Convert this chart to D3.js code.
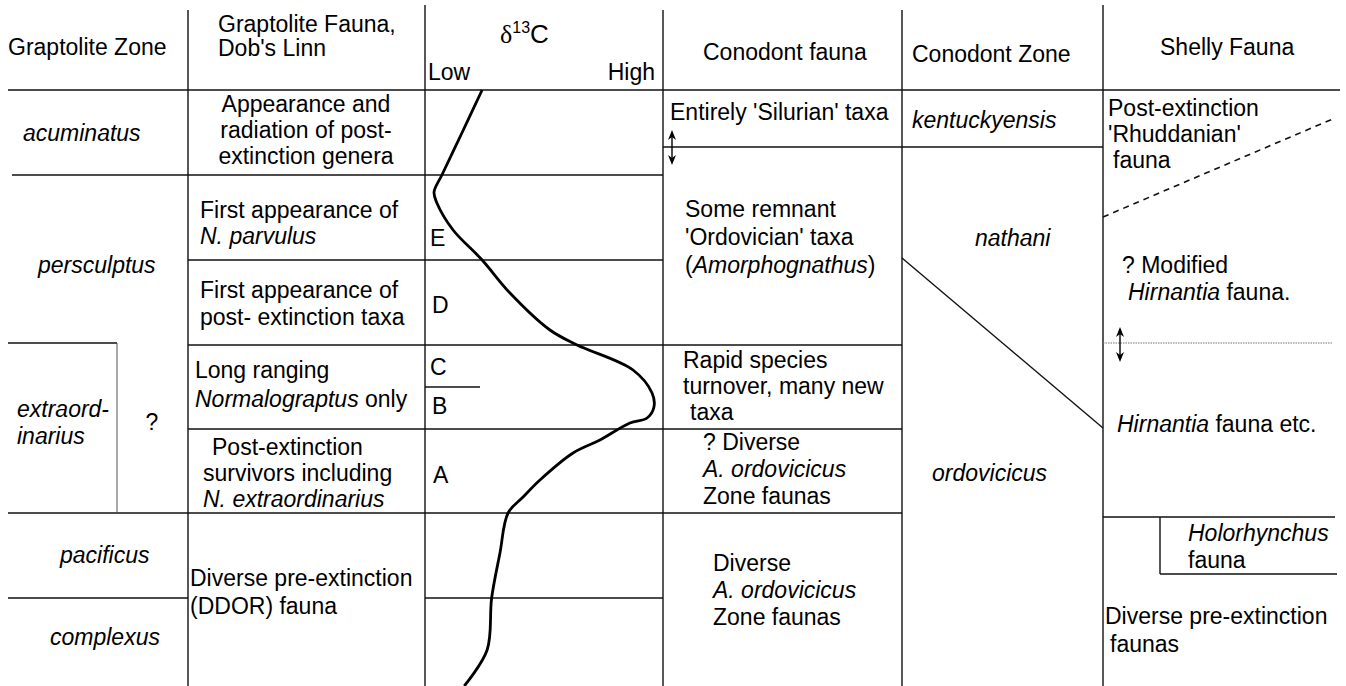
<!DOCTYPE html>
<html><head><meta charset="utf-8">
<script src="https://cdn.jsdelivr.net/npm/d3@7"></script>
<style>
html,body{margin:0;padding:0;background:#fff;}
svg{display:block;}
text{font-family:"Liberation Sans", Arial, Helvetica, sans-serif; fill:#000;}
</style>
</head><body>
<svg id="chart" width="1346" height="686"></svg>
<script>
// ---------------- DATA ----------------
// "|" separates lines, text between "*" is italic
const columnTitles = ["Graptolite Zone", "Graptolite Fauna,|Dob's Linn", "δ13C", "Conodont fauna", "Conodont Zone", "Shelly Fauna"];
const carbonScaleLabels = ["Low", "High"];
const graptoliteZones = ["*acuminatus*", "*persculptus*", "*extraord-*|*inarius*", "?", "*pacificus*", "*complexus*"];
const graptoliteFauna = [
  "Appearance and|radiation of post-|extinction genera",
  "First appearance of|*N. parvulus*",
  "First appearance of|post- extinction taxa",
  "Long ranging|*Normalograptus* only",
  "Post-extinction|survivors including|*N. extraordinarius*",
  "Diverse pre-extinction|(DDOR) fauna"
];
const carbonIntervals = ["E", "D", "C", "B", "A"];
const conodontFauna = [
  "Entirely 'Silurian' taxa",
  "Some remnant|'Ordovician' taxa|(*Amorphognathus*)",
  "Rapid species|turnover, many new|taxa",
  "? Diverse|*A. ordovicicus*|Zone faunas",
  "Diverse|*A. ordovicicus*|Zone faunas"
];
const conodontZones = ["*kentuckyensis*", "*nathani*", "*ordovicicus*"];
const shellyFauna = [
  "Post-extinction|'Rhuddanian'|fauna",
  "? Modified|*Hirnantia* fauna.",
  "*Hirnantia* fauna etc.",
  "*Holorhynchus*|fauna",
  "Diverse pre-extinction|faunas"
];
// δ13C curve: depth below top of table (chart units) and relative value (0 = Low, 100 = High)
const d13cDepth = [0, 43, 85, 102, 113, 140, 170, 203, 240, 255, 280, 303, 317, 328, 333, 350, 363, 390, 407, 423, 463, 508, 560, 596];
const d13cValue = [24, 15.5, 7.1, 3.8, 5.0, 11.8, 24, 35.7, 52.5, 63.9, 87.4, 95.4, 96.2, 93.3, 86.1, 73.5, 62.2, 48.3, 41.2, 34.9, 31.5, 28.0, 26.1, 16.5];

// ---------------- LAYOUT ----------------
const W = 1346, H = 686, FS = 23;
const svg = d3.select("#chart");
const xC = d3.scaleLinear().domain([0, 100]).range([425, 663]);   // δ13C Low→High
const yD = d3.scaleLinear().domain([0, 596]).range([90, 686]);    // depth below header

const hLines = [[8,1340,90],[12,663,175],[663,1103,147],[188,663,260],[8,117,343],[188,902,345],[425,480,387],
  [188,902,429],[8,902,513],[8,188,598],[425,663,598],[1103,1335,517],[1160,1337,574]];
const vLines = [[188,10,686],[425,5,686],[663,10,686],[902,10,686],[1103,5,686],[117,343,513],[1160,517,574]];

const gLines = svg.append("g").attr("stroke", "#111").attr("stroke-width", 1.4).attr("fill", "none");
gLines.selectAll(".h").data(hLines).join("line")
  .attr("x1", d => d[0]).attr("x2", d => d[1]).attr("y1", d => d[2]).attr("y2", d => d[2]);
gLines.selectAll(".v").data(vLines).join("line")
  .attr("x1", d => d[0]).attr("x2", d => d[0]).attr("y1", d => d[1]).attr("y2", d => d[2]);
// thin inner vertical
gLines.selectAll("line").filter(d => d.length === 3 && d[0] === 117).attr("stroke", "#555").attr("stroke-width", 1);
// conodont zone diagonal
gLines.append("line").attr("x1", 902).attr("y1", 258).attr("x2", 1103).attr("y2", 428);
// dashed shelly boundary
gLines.append("line").attr("x1", 1103).attr("y1", 217).attr("x2", 1335).attr("y2", 118)
  .attr("stroke-dasharray", "6,5").attr("stroke-width", 1.6);
// dotted shelly boundary
gLines.append("line").attr("x1", 1103).attr("y1", 343).attr("x2", 1332).attr("y2", 343)
  .attr("stroke", "#777").attr("stroke-width", 1).attr("stroke-dasharray", "1.5,1");

// double arrows
function dblArrow(x, y1, y2) {
  const g = svg.append("g");
  g.append("line").attr("x1", x).attr("x2", x).attr("y1", y1 + 3).attr("y2", y2 - 3).attr("stroke", "#000").attr("stroke-width", 1.4);
  g.append("path").attr("d", `M${x},${y1} L${x-4},${y1+10} L${x},${y1+7} L${x+4},${y1+10} Z`).attr("fill", "#000");
  g.append("path").attr("d", `M${x},${y2} L${x-4},${y2-10} L${x},${y2-7} L${x+4},${y2-10} Z`).attr("fill", "#000");
}
dblArrow(672, 130, 165);
dblArrow(1120, 327, 362);

// δ13C curve
const curvePts = d13cDepth.map((d, i) => [xC(d13cValue[i]), yD(d)]);
svg.append("path").attr("d", d3.line().curve(d3.curveCatmullRom.alpha(0.5))(curvePts))
  .attr("fill", "none").attr("stroke", "#000").attr("stroke-width", 2.8).attr("stroke-linejoin", "round");

// text helper
function block(str, x, y, lh = 26, anchor = "start", size = FS) {
  const lines = str.split("|");
  lines.forEach((ln, i) => {
    const t = svg.append("text").attr("x", Array.isArray(x) ? x[i] : x).attr("y", y + i * lh)
      .attr("text-anchor", anchor).attr("font-size", size);
    ln.split("*").forEach((seg, k) => {
      if (seg === "") return;
      t.append("tspan").attr("font-style", k % 2 ? "italic" : "normal").text(seg);
    });
  });
}

// headers
block(columnTitles[0], 8, 55);
block(columnTitles[1], 218, 32, 24);
{
  const t = svg.append("text").attr("x", 500).attr("y", 43);
  t.append("tspan").attr("font-size", 26).attr("font-family", "Liberation Serif, serif").text(columnTitles[2].slice(0, 1));
  t.append("tspan").attr("font-size", 16).attr("dy", -10).text(columnTitles[2].slice(1, 3));
  t.append("tspan").attr("font-size", 26).attr("dy", 10).text(columnTitles[2].slice(3));
}
block(carbonScaleLabels[0], 428, 80);
block(carbonScaleLabels[1], 655, 80, 26, "end");
block(columnTitles[3], 703, 60);
block(columnTitles[4], 912, 62);
block(columnTitles[5], 1160, 55);

// graptolite zones
block(graptoliteZones[0], 23, 141);
block(graptoliteZones[1], 38, 273);
block(graptoliteZones[2], 17, 417, 27);
block(graptoliteZones[3], 152, 430, 26, "middle");
block(graptoliteZones[4], 60, 563);
block(graptoliteZones[5], 50, 645);

// graptolite fauna
block(graptoliteFauna[0], 306, 112, 26, "middle");
block(graptoliteFauna[1], 200, 218, 26);
block(graptoliteFauna[2], 200, 298, 27);
block(graptoliteFauna[3], 195, 378, 29);
block(graptoliteFauna[4], [212, 203, 203], 455, 26);
block(graptoliteFauna[5], 190, 586, 28);

// δ13C intervals
const intPos = [[430,246],[432,313],[430,375],[432,414],[433,483]];
carbonIntervals.forEach((s, i) => block(s, intPos[i][0], intPos[i][1]));

// conodont fauna
block(conodontFauna[0], 670, 120);
block(conodontFauna[1], 685, 217, 28);
block(conodontFauna[2], [683, 683, 690], 368, 26);
block(conodontFauna[3], 703, 450, 27);
block(conodontFauna[4], 713, 571, 27);

// conodont zones
block(conodontZones[0], 912, 128);
block(conodontZones[1], 975, 246);
block(conodontZones[2], 932, 481);

// shelly fauna
block(shellyFauna[0], [1108, 1108, 1113], 116, 26);
block(shellyFauna[1], [1122, 1128], 273, 27);
block(shellyFauna[2], 1117, 432);
block(shellyFauna[3], 1188, 541, 27);
block(shellyFauna[4], [1105, 1110], 624, 28);
</script>
</body></html>
